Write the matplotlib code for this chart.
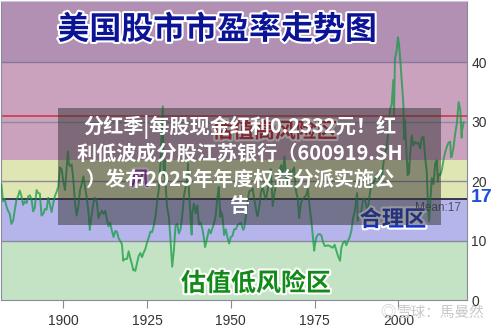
import matplotlib
matplotlib.use("Agg")
import matplotlib.pyplot as plt
import matplotlib.patheffects as pe
from matplotlib.patches import Rectangle

plt.rcParams["font.family"] = ["Noto Sans CJK SC", "DejaVu Sans"]

W, H = 500, 333

# Shiller-style CAPE (fractional year, value)
YEARS = [
    1881.0, 1881.5, 1882.0, 1882.5, 1883.0, 1883.5, 1884.0, 1884.5, 1885.0, 1885.5,
    1886.0, 1886.5, 1887.0, 1887.5, 1888.0, 1888.5, 1889.0, 1889.5, 1890.0, 1890.5,
    1891.0, 1891.5, 1892.0, 1892.5, 1893.0, 1893.5, 1894.0, 1894.5, 1895.0, 1895.5,
    1896.0, 1896.5, 1897.0, 1897.5, 1898.0, 1898.5, 1899.0, 1899.5, 1900.0, 1900.5,
    1901.0, 1901.4, 1901.6, 1902.0, 1902.5, 1903.0, 1903.5, 1904.0, 1904.5, 1905.0,
    1905.5, 1906.0, 1906.5, 1907.0, 1907.5, 1907.9, 1908.0, 1908.5, 1909.0, 1909.5,
    1910.0, 1910.5, 1911.0, 1911.5, 1912.0, 1912.5, 1913.0, 1913.5, 1914.0, 1914.5,
    1915.0, 1915.5, 1916.0, 1916.5, 1917.0, 1917.5, 1917.9, 1918.0, 1918.5, 1919.0,
    1919.5, 1920.0, 1920.5, 1920.9, 1921.0, 1921.5, 1922.0, 1922.5, 1923.0, 1923.5,
    1924.0, 1924.5, 1925.0, 1925.5, 1926.0, 1926.5, 1927.0, 1927.5, 1928.0, 1928.5,
    1929.0, 1929.7, 1929.9, 1930.0, 1930.3, 1930.5, 1931.0, 1931.5, 1932.0, 1932.5,
    1933.0, 1933.5, 1934.0, 1934.5, 1935.0, 1935.5, 1936.0, 1936.5, 1937.0, 1937.2,
    1937.5, 1938.0, 1938.3, 1938.5, 1939.0, 1939.5, 1940.0, 1940.5, 1941.0, 1941.5,
    1942.0, 1942.3, 1942.5, 1943.0, 1943.5, 1944.0, 1944.5, 1945.0, 1945.5, 1946.0,
    1946.4, 1946.9, 1947.0, 1947.5, 1948.0, 1948.5, 1949.0, 1949.5, 1950.0, 1950.5,
    1951.0, 1951.5, 1952.0, 1952.5, 1953.0, 1953.7, 1954.0, 1954.5, 1955.0, 1955.5,
    1956.0, 1956.5, 1957.0, 1957.8, 1958.0, 1958.5, 1959.0, 1959.5, 1960.0, 1960.5,
    1961.0, 1961.9, 1962.0, 1962.5, 1963.0, 1963.5, 1964.0, 1964.5, 1965.0, 1965.5,
    1966.0, 1966.5, 1966.8, 1967.0, 1967.5, 1968.0, 1968.9, 1969.0, 1969.5, 1970.0,
    1970.4, 1970.5, 1971.0, 1971.5, 1972.0, 1972.5, 1973.0, 1973.5, 1974.0, 1974.5,
    1974.9, 1975.0, 1975.5, 1976.0, 1976.5, 1977.0, 1977.5, 1978.0, 1978.5, 1979.0,
    1979.5, 1980.0, 1980.5, 1981.0, 1981.5, 1982.0, 1982.6, 1983.0, 1983.5, 1984.0,
    1984.5, 1985.0, 1985.5, 1986.0, 1986.5, 1987.0, 1987.7, 1987.9, 1988.0, 1988.5,
    1989.0, 1989.5, 1990.0, 1990.8, 1991.0, 1991.5, 1992.0, 1992.5, 1993.0, 1993.5,
    1994.0, 1994.5, 1995.0, 1995.5, 1996.0, 1996.5, 1997.0, 1997.5, 1998.0, 1998.5,
    1998.7, 1999.0, 1999.5, 1999.9, 2000.2, 2000.5, 2001.0, 2001.5, 2001.7, 2002.0,
    2002.5, 2002.8, 2003.0, 2003.2, 2003.5, 2004.0, 2004.5, 2005.0, 2005.5, 2006.0,
    2006.5, 2007.0, 2007.5, 2008.0, 2008.5, 2008.9, 2009.2, 2009.5, 2010.0, 2010.5,
    2011.0, 2011.5, 2011.8, 2012.0, 2012.5, 2013.0, 2013.5, 2014.0, 2014.5, 2015.0,
    2015.5, 2015.7, 2016.0, 2016.5, 2017.0, 2017.5, 2018.0, 2018.5, 2018.9, 2019.0,
    2019.5,
]
CAPE = [
    18.5, 19.5, 16.6, 17.0, 15.8, 15.0, 14.5, 12.8, 13.3, 15.0,
    16.8, 17.5, 18.4, 17.5, 16.0, 16.6, 16.3, 17.4, 17.6, 17.0,
    14.9, 15.5, 18.5, 18.0, 17.9, 14.2, 14.5, 15.3, 15.2, 17.2,
    16.0, 14.8, 16.3, 17.5, 18.2, 19.1, 22.3, 22.0, 19.9, 18.5,
    22.0, 25.0, 23.0, 22.5, 22.8, 20.2, 16.2, 14.2, 15.8, 18.5,
    19.5, 20.8, 19.0, 17.2, 14.8, 11.8, 12.3, 14.5, 16.4, 17.2,
    16.5, 13.8, 14.5, 15.0, 14.5, 15.0, 13.6, 12.4, 13.0, 11.6,
    10.6, 11.6, 11.5, 10.4, 9.9, 9.4, 6.6, 6.8, 6.9, 6.9,
    8.2, 7.0, 6.0, 5.0, 5.2, 4.9, 6.2, 7.4, 7.9, 7.2,
    8.0, 8.6, 9.7, 10.5, 11.5, 11.4, 12.5, 14.0, 16.5, 18.6,
    23.0, 32.6, 22.5, 21.0, 23.5, 19.5, 15.5, 14.0, 10.1, 5.6,
    8.3, 12.5, 12.8, 11.2, 11.9, 14.2, 17.5, 19.0, 20.0, 23.0,
    18.5, 13.6, 11.0, 14.7, 16.2, 14.6, 15.9, 12.7, 13.0, 12.0,
    10.3, 8.9, 9.3, 10.6, 11.9, 11.2, 12.1, 12.9, 14.3, 17.3,
    19.0, 14.0, 15.0, 14.2, 10.9, 11.9, 10.5, 9.5, 10.6, 10.8,
    11.9, 11.9, 12.6, 12.8, 13.0, 11.8, 12.1, 14.2, 16.7, 18.3,
    18.4, 18.8, 16.9, 14.4, 14.1, 15.7, 18.1, 19.1, 17.8, 16.9,
    18.6, 22.0, 21.3, 15.8, 17.9, 19.4, 20.9, 21.7, 22.7, 21.3,
    24.1, 20.7, 19.2, 20.0, 21.9, 21.2, 22.3, 21.1, 18.2, 17.0,
    13.8, 14.3, 16.5, 17.0, 17.3, 17.6, 18.7, 15.8, 13.5, 10.7,
    8.3, 8.9, 10.5, 11.0, 11.1, 10.9, 9.8, 9.1, 9.1, 9.2,
    9.1, 8.9, 8.8, 9.3, 8.3, 7.4, 6.6, 8.8, 9.6, 9.9,
    9.2, 10.0, 10.6, 11.7, 13.8, 14.9, 18.0, 13.3, 13.9, 14.2,
    15.1, 17.0, 17.1, 14.8, 15.6, 17.9, 19.8, 19.4, 20.3, 20.8,
    21.4, 19.8, 20.2, 22.7, 24.8, 25.5, 28.3, 32.0, 32.9, 37.0,
    31.0, 40.6, 42.0, 44.2, 43.0, 41.0, 36.9, 33.0, 27.0, 30.3,
    24.0, 21.0, 22.9, 21.3, 24.5, 27.7, 26.0, 26.6, 26.3, 26.5,
    25.5, 27.2, 27.5, 24.0, 21.5, 15.2, 13.3, 16.0, 20.5, 19.5,
    22.9, 23.5, 19.9, 21.2, 21.0, 21.9, 23.6, 24.9, 25.8, 26.5,
    26.6, 24.0, 24.2, 25.8, 28.1, 29.8, 33.3, 32.0, 27.3, 28.4,
    29.9,
]

# value bands: (low, high, colour)
BANDS = [
    (0, 10, "#c3e3c4"),
    (10, 17, "#b5b5ec"),
    (17, 23.5, "#dfe6b4"),
    (23.5, 40, "#caa2bd"),
    (40, 50.3, "#b190b4"),
]
GRID_LEVELS = [10, 20, 30, 40]
MEAN = 17
HIGH_LINE = 31
X_TICKS = [1900, 1925, 1950, 1975, 2000]
Y_TICKS = [0, 10, 20, 30, 40]

HEADLINE = [
    "分红季|每股现金红利0.2332元！红",
    "利低波成分股江苏银行（600919.SH",
    "）发布2025年年度权益分派实施公",
    "告",
]


def fx(px):
    return px / W


def fy(py):
    return 1 - py / H


outline = [pe.withStroke(linewidth=3, foreground="white")]

fig = plt.figure(figsize=(W / 100, H / 100), dpi=100)
ax = fig.add_axes([fx(1), fy(300), fx(467) - fx(1), fy(1) - fy(300)])
ax.set_xlim(1881.4, 2020.5)
ax.set_ylim(0, 50.3)

for lo, hi, col in BANDS:
    ax.axhspan(lo, hi, color=col, lw=0, zorder=0)
for lvl in GRID_LEVELS:
    ax.axhline(lvl, color="#8c8a9c" if lvl != 40 else "#86779a", lw=1.0, zorder=1)
ax.axhline(MEAN, color="#1c1c3a", lw=1.2, zorder=1)
ax.axhline(HIGH_LINE, color="#cc3a4a", lw=1.2, zorder=1)

ax.plot(YEARS, CAPE, color="#0f9a3e", alpha=0.72, lw=1.4, zorder=3)

ax.text(1946.0, 45.4, "美国股市市盈率走势图", ha="center", va="center",
        fontsize=23, fontweight="bold", color="#0c1496", path_effects=outline, zorder=4)
ax.text(1963.2, 28.4, "估值高风险区", ha="center", va="center",
        fontsize=15, fontweight="bold", color="#d01a36", path_effects=outline, zorder=4)
ax.text(1922.9, 20.2, "风", ha="center", va="center",
        fontsize=14, fontweight="bold", color="#a41cc4", path_effects=outline, zorder=4)
ax.text(1998.4, 13.5, "合理区", ha="center", va="center",
        fontsize=16, fontweight="bold", color="#1232d0", path_effects=outline, zorder=4)
ax.text(1957.5, 2.7, "估值低风险区", ha="center", va="center",
        fontsize=18, fontweight="bold", color="#128a18", path_effects=outline, zorder=4)
ax.text(2018.6, 15.4, "Mean:17", ha="right", va="center",
        fontsize=8.5, color="#505068", family="Liberation Sans", zorder=4)

ax.set_xticks(X_TICKS)
ax.set_yticks(Y_TICKS)
ax.yaxis.tick_right()
ax.tick_params(axis="x", length=6, width=0.8, color="#8a8a8a", pad=4,
               labelsize=10, labelcolor="#333333")
ax.tick_params(axis="y", length=0, pad=3, labelsize=10, labelcolor="#333333")
for lab in ax.get_xticklabels() + ax.get_yticklabels():
    lab.set_family("Liberation Sans")
for side in ["left", "bottom", "right"]:
    ax.spines[side].set_color("#8a8a9a")
ax.spines["top"].set_color("#c8c8d8")

fig.text(fx(471), fy(198), "17", ha="left", va="center", fontsize=14,
         fontweight="bold", color="#1a4fd8", family="Liberation Sans")

# headline overlay
fig.add_artist(Rectangle((fx(58), fy(225)), fx(441) - fx(58), fy(108) - fy(225),
                         transform=fig.transFigure, facecolor="#323232",
                         alpha=0.5, lw=0, zorder=5))
for i, line in enumerate(HEADLINE):
    fig.text(fx(240), fy(127 + 26 * i), line, ha="center", va="center",
             fontsize=14.5, fontweight="bold", color="white", zorder=6)

fig.text(fx(380), fy(313), "◎", ha="left", va="center", fontsize=11,
         color="#cfcfcf", zorder=6)
fig.text(fx(397), fy(313), "雪球：馬曼然", ha="left", va="center", fontsize=10.5,
         color="#c8c8c8", zorder=6)

fig.savefig("out.png", dpi=100)
